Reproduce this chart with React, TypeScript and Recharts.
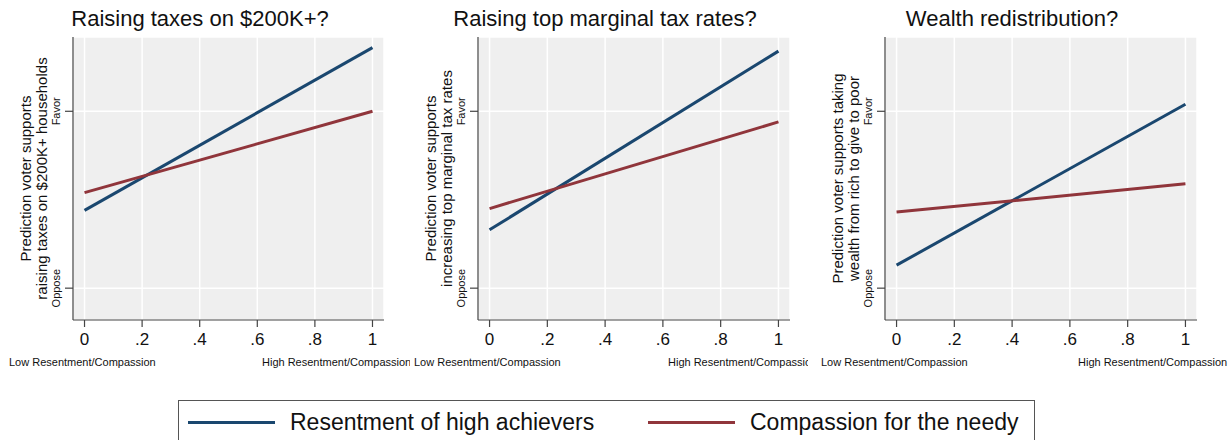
import React from 'react';
import { LineChart, Line, XAxis, YAxis, CartesianGrid } from 'recharts';

// x positions (resentment / compassion score, 0-1)
const xPoints = [0, 1];

// predicted support, Oppose = 0, Favor = 1
const taxesResentment = [0.44, 1.36];
const taxesCompassion = [0.54, 1.0];
const topRateResentment = [0.33, 1.34];
const topRateCompassion = [0.45, 0.94];
const wealthResentment = [0.13, 1.04];
const wealthCompassion = [0.43, 0.59];

const xTicks = [0, 0.2, 0.4, 0.6, 0.8, 1];
const xTickLabels = ['0', '.2', '.4', '.6', '.8', '1'];
const yTicks = [0, 1];
const yTickLabels = ['Oppose', 'Favor'];

const seriesNames = ['Resentment of high achievers', 'Compassion for the needy'];
const seriesColors = ['#1a476f', '#90353b'];

const FONT = '"Liberation Sans", Arial, Helvetica, sans-serif';
const AXIS = '#444';

const build = (a: number[], b: number[]) =>
  xPoints.map((x, i) => ({ x, resentment: a[i], compassion: b[i] }));

const panels = [
  {
    title: 'Raising taxes on $200K+?',
    yLabel: ['Prediction voter supports', 'raising taxes on $200K+ households'],
    data: build(taxesResentment, taxesCompassion),
    left: 0,
    width: 410,
    rightMargin: 26,
    titleWidth: 400,
    highLeft: 262,
  },
  {
    title: 'Raising top marginal tax rates?',
    yLabel: ['Prediction voter supports', 'increasing top marginal tax rates'],
    data: build(topRateResentment, topRateCompassion),
    left: 405,
    width: 403,
    rightMargin: 18,
    titleWidth: 400,
    highLeft: 263,
  },
  {
    title: 'Wealth redistribution?',
    yLabel: ['Prediction voter supports taking', 'wealth from rich to give to poor'],
    data: build(wealthResentment, wealthCompassion),
    left: 812,
    width: 419,
    rightMargin: 34,
    titleWidth: 400,
    highLeft: 266,
  },
];

const XTick = (props: any) => {
  const { x, y, payload } = props;
  const idx = xTicks.indexOf(payload.value);
  return (
    <text x={x} y={y + 16} textAnchor="middle" fontSize={17} fontFamily={FONT} fill="#111">
      {xTickLabels[idx]}
    </text>
  );
};

const YTick = (props: any) => {
  const { y, payload } = props;
  const idx = yTicks.indexOf(payload.value);
  return (
    <text
      x={60}
      y={y}
      transform={`rotate(-90, 60, ${y})`}
      textAnchor="middle"
      fontSize={11}
      fontFamily={FONT}
      fill="#111"
    >
      {yTickLabels[idx]}
    </text>
  );
};

function Panel({ p }: { p: (typeof panels)[number] }) {
  const yLabel = (props: any) => {
    const vb = props.viewBox;
    const cy = vb.y + vb.height / 2;
    return (
      <g fontFamily={FONT} fontSize={15} fill="#111">
        <text x={31} y={cy} transform={`rotate(-90, 31, ${cy})`} textAnchor="middle">
          {p.yLabel[0]}
        </text>
        <text x={47} y={cy} transform={`rotate(-90, 47, ${cy})`} textAnchor="middle">
          {p.yLabel[1]}
        </text>
      </g>
    );
  };

  return (
    <div style={{ position: 'absolute', left: p.left, top: 0, width: p.width, height: 390, overflow: 'hidden' }}>
      <div
        style={{
          position: 'absolute',
          top: 6,
          left: 0,
          width: p.titleWidth,
          textAlign: 'center',
          fontFamily: FONT,
          fontSize: 22,
          color: '#111',
          whiteSpace: 'nowrap',
        }}
      >
        {p.title}
      </div>
      <LineChart
        width={p.width}
        height={390}
        data={p.data}
        margin={{ top: 37, right: p.rightMargin, bottom: 0, left: 0 }}
        style={{ position: 'absolute', top: 0, left: 0 }}
      >
        <CartesianGrid fill="#efefef" stroke="#ffffff" strokeWidth={1.5} />
        <XAxis
          dataKey="x"
          type="number"
          domain={[-0.04, 1.04]}
          ticks={xTicks}
          height={70}
          allowDataOverflow
          axisLine={{ stroke: AXIS, strokeWidth: 1.2 }}
          tickLine={{ stroke: AXIS, strokeWidth: 1.2 }}
          tickSize={7}
          tick={<XTick />}
        />
        <YAxis
          type="number"
          domain={[-0.18, 1.42]}
          ticks={yTicks}
          width={73}
          allowDataOverflow
          axisLine={{ stroke: AXIS, strokeWidth: 1.2 }}
          tickLine={{ stroke: AXIS, strokeWidth: 1.2 }}
          tickSize={8}
          tick={<YTick />}
          label={yLabel}
        />
        <Line dataKey="resentment" stroke={seriesColors[0]} strokeWidth={3} dot={false} isAnimationActive={false} />
        <Line dataKey="compassion" stroke={seriesColors[1]} strokeWidth={3} dot={false} isAnimationActive={false} />
      </LineChart>
      <div style={{ position: 'absolute', top: 356, left: 9, fontFamily: FONT, fontSize: 11, color: '#111', whiteSpace: 'nowrap' }}>
        Low Resentment/Compassion
      </div>
      <div style={{ position: 'absolute', top: 356, left: p.highLeft, fontFamily: FONT, fontSize: 11, color: '#111', whiteSpace: 'nowrap' }}>
        High Resentment/Compassion
      </div>
    </div>
  );
}

export default function App() {
  return (
    <div style={{ position: 'absolute', left: 0, top: 0, width: 1231, height: 440, background: '#fff', overflow: 'hidden' }}>
      {panels.map((p) => (
        <Panel key={p.title} p={p} />
      ))}
      <div
        style={{
          position: 'absolute',
          left: 178,
          top: 400,
          width: 857,
          height: 60,
          border: '1px solid #555',
          boxSizing: 'border-box',
        }}
      />
      {seriesNames.map((name, i) => (
        <div
          key={name}
          style={{
            position: 'absolute',
            left: i === 0 ? 188 : 648,
            top: 408,
            height: 28,
            display: 'flex',
            alignItems: 'center',
            fontFamily: FONT,
            fontSize: 23,
            color: '#111',
            whiteSpace: 'nowrap',
          }}
        >
          <span style={{ display: 'inline-block', width: 87, height: 3, background: seriesColors[i], marginRight: 15 }} />
          {name}
        </div>
      ))}
    </div>
  );
}
